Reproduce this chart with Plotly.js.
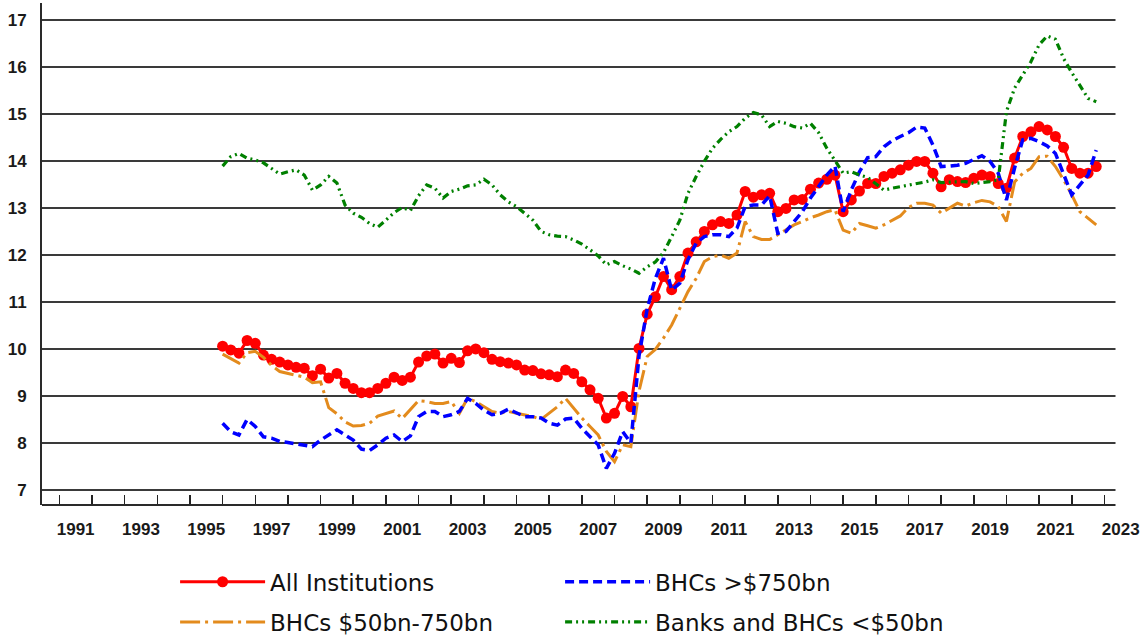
<!DOCTYPE html>
<html>
<head>
<meta charset="utf-8">
<script src="https://cdn.plot.ly/plotly-3.0.1.min.js"></script>
<style>
html,body{margin:0;padding:0;background:#ffffff;}
#chart{width:1146px;height:637px;}
</style>
</head>
<body>
<div id="chart"></div>
<script>
// Quarterly observations, 1996 Q1 .. 2022 Q4
const firstYear = 1996;

const allInstitutions = [
 10.06, 9.98, 9.91, 10.18, 10.12, 9.87, 9.78, 9.72, 9.66, 9.61, 9.59, 9.43,
 9.57, 9.38, 9.48, 9.27, 9.16, 9.07, 9.07, 9.16, 9.27, 9.40, 9.33, 9.40,
 9.72, 9.85, 9.89, 9.70, 9.80, 9.71, 9.96, 10.00, 9.92, 9.78, 9.73, 9.70,
 9.66, 9.55, 9.54, 9.47, 9.45, 9.41, 9.55, 9.48, 9.30, 9.13, 8.95, 8.53,
 8.63, 8.99, 8.77, 10.01, 10.74, 11.11, 11.54, 11.26, 11.54, 12.04, 12.28, 12.50,
 12.64, 12.71, 12.67, 12.85, 13.35, 13.23, 13.28, 13.31, 12.92, 12.99, 13.17, 13.18,
 13.40, 13.53, 13.61, 13.70, 12.92, 13.17, 13.36, 13.52, 13.52, 13.67, 13.74, 13.81,
 13.91, 13.99, 13.99, 13.74, 13.45, 13.60, 13.56, 13.54, 13.63, 13.70, 13.67, 13.52,
 13.42, 14.06, 14.52, 14.62, 14.73, 14.66, 14.52, 14.29, 13.84, 13.74, 13.74, 13.88
];

const bhcsOver750bn = [
 8.42, 8.24, 8.17, 8.50, 8.35, 8.13, 8.10, 8.03, 8.01, 7.98, 7.94, 7.92,
 8.06, 8.17, 8.28, 8.17, 8.06, 7.87, 7.84, 7.96, 8.10, 8.17, 8.03, 8.15,
 8.56, 8.67, 8.67, 8.56, 8.60, 8.67, 8.95, 8.84, 8.70, 8.60, 8.63, 8.72,
 8.63, 8.56, 8.56, 8.53, 8.42, 8.38, 8.51, 8.53, 8.31, 8.13, 7.96, 7.46,
 7.78, 8.24, 8.00, 9.85, 10.85, 11.50, 11.93, 11.25, 11.40, 11.90, 12.25, 12.39,
 12.43, 12.43, 12.39, 12.57, 13.03, 13.06, 13.06, 13.26, 12.46, 12.50, 12.71, 12.92,
 13.21, 13.45, 13.70, 13.89, 12.92, 13.38, 13.77, 14.07, 14.09, 14.30, 14.43, 14.52,
 14.60, 14.72, 14.70, 14.34, 13.88, 13.89, 13.91, 13.95, 14.04, 14.11, 13.99, 13.74,
 13.17, 13.85, 14.45, 14.48, 14.41, 14.32, 14.16, 13.74, 13.28, 13.49, 13.70, 14.23
];

const bhcs50to750bn = [
 9.89, 9.80, 9.70, 9.92, 9.95, 9.82, 9.65, 9.52, 9.48, 9.45, 9.40, 9.28,
 9.30, 8.75, 8.62, 8.45, 8.36, 8.37, 8.42, 8.57, 8.63, 8.68, 8.52, 8.72,
 8.90, 8.88, 8.84, 8.84, 8.88, 8.63, 8.95, 8.88, 8.77, 8.67, 8.63, 8.67,
 8.63, 8.60, 8.56, 8.50, 8.63, 8.77, 8.95, 8.74, 8.53, 8.35, 8.17, 7.82,
 7.60, 7.96, 7.92, 9.10, 9.84, 9.99, 10.23, 10.51, 10.87, 11.22, 11.50, 11.86,
 11.96, 12.00, 11.93, 12.04, 12.71, 12.39, 12.33, 12.33, 12.43, 12.53, 12.64, 12.71,
 12.79, 12.85, 12.92, 12.96, 12.53, 12.46, 12.67, 12.62, 12.57, 12.64, 12.74, 12.83,
 13.01, 13.10, 13.10, 13.06, 12.89, 12.99, 13.10, 13.04, 13.11, 13.16, 13.13, 13.03,
 12.71, 13.55, 13.74, 13.84, 14.09, 14.10, 13.88, 13.60, 13.28, 12.92, 12.78, 12.64
];

const banksUnder50bn = [
 13.89, 14.09, 14.16, 14.06, 14.02, 13.96, 13.84, 13.72, 13.77, 13.81, 13.70, 13.38,
 13.49, 13.67, 13.53, 13.06, 12.89, 12.80, 12.67, 12.59, 12.74, 12.90, 13.01, 12.94,
 13.26, 13.49, 13.42, 13.21, 13.35, 13.40, 13.47, 13.49, 13.61, 13.49, 13.28, 13.13,
 13.03, 12.89, 12.74, 12.50, 12.43, 12.40, 12.39, 12.32, 12.23, 12.11, 11.98, 11.79,
 11.86, 11.77, 11.70, 11.61, 11.75, 11.85, 12.05, 12.39, 12.74, 13.31, 13.67, 13.99,
 14.27, 14.46, 14.62, 14.73, 14.91, 15.03, 14.98, 14.73, 14.84, 14.80, 14.73, 14.70,
 14.80, 14.60, 14.27, 14.01, 13.74, 13.77, 13.70, 13.65, 13.52, 13.38, 13.42, 13.45,
 13.49, 13.52, 13.55, 13.60, 13.54, 13.55, 13.56, 13.56, 13.52, 13.54, 13.56, 13.60,
 15.05, 15.55, 15.83, 16.11, 16.47, 16.66, 16.59, 16.18, 15.88, 15.62, 15.33, 15.26
];

const seriesNames = ['All Institutions', 'BHCs >$750bn', 'BHCs $50bn-750bn', 'Banks and BHCs <$50bn'];
const yTickValues = [7, 8, 9, 10, 11, 12, 13, 14, 15, 16, 17];
const yearTickValues = [1991,1992,1993,1994,1995,1996,1997,1998,1999,2000,2001,2002,2003,2004,2005,2006,2007,
  2008,2009,2010,2011,2012,2013,2014,2015,2016,2017,2018,2019,2020,2021,2022,2023];
const yearLabels = ['1991','1993','1995','1997','1999','2001','2003','2005','2007','2009','2011','2013',
  '2015','2017','2019','2021','2023'];

const quarterX = allInstitutions.map((_, i) => firstYear + i / 4);
const labelPositions = yearLabels.map(s => Number(s) + 0.5);

const xMin = 1990.47, xMax = 2023.6, gridEnd = 2023.34;
const yMin = 6.68, yMax = 17.36;

const tickFont = {family: 'Liberation Sans, Arial, sans-serif', size: 17, color: '#1a1a1a', weight: 'bold'};
const legendFont = {family: 'DejaVu Sans, Liberation Sans, Arial, sans-serif', size: 23, color: '#111'};

const traces = [
  {x: quarterX, y: allInstitutions, name: seriesNames[0], type: 'scatter', mode: 'lines+markers',
   line: {color: '#ff0000', width: 3}, marker: {color: '#ff0000', size: 11}, legend: 'legend'},
  {x: quarterX, y: bhcs50to750bn, name: seriesNames[2], type: 'scatter', mode: 'lines',
   line: {color: '#e38b1d', width: 3, dash: '20px,5px,3px,5px'}, legend: 'legend2'},
  {x: quarterX, y: bhcsOver750bn, name: seriesNames[1], type: 'scatter', mode: 'lines',
   line: {color: '#0000ff', width: 3.5, dash: '9px,5px'}, legend: 'legend'},
  {x: quarterX, y: banksUnder50bn, name: seriesNames[3], type: 'scatter', mode: 'lines',
   line: {color: '#008000', width: 3.2, dash: '7px,4px,2px,4px,2px,4px'}, legend: 'legend2'}
];

const shapes = yTickValues.map(v => ({
  type: 'line', xref: 'x', yref: 'y', x0: xMin, x1: gridEnd, y0: v, y1: v,
  line: {color: '#3a3a3a', width: 2}, layer: 'below'
}));
shapes.push({type: 'line', xref: 'x', yref: 'paper', x0: xMin, x1: gridEnd, y0: 0, y1: 0,
  line: {color: '#2a2a2a', width: 2}, layer: 'above'});

const legendBase = {orientation: 'h', x: 0.123, xanchor: 'left', yanchor: 'middle',
  entrywidth: 285, itemwidth: 85, font: legendFont, bgcolor: 'rgba(0,0,0,0)', traceorder: 'normal'};

const layout = {
  width: 1146, height: 637,
  margin: {l: 42, r: 22, t: 3, b: 132, autoexpand: false},
  paper_bgcolor: '#ffffff', plot_bgcolor: '#ffffff',
  showlegend: true,
  xaxis: {range: [xMin, xMax], tickmode: 'array', tickvals: yearTickValues, ticks: 'inside',
    ticklen: 10, tickwidth: 1.5, tickcolor: '#222', showticklabels: false, showgrid: false,
    zeroline: false, showline: false, fixedrange: true},
  xaxis2: {range: [xMin, xMax], overlaying: 'x', anchor: 'y', side: 'bottom', tickmode: 'array',
    tickvals: labelPositions, ticktext: yearLabels, ticks: '', showgrid: false, zeroline: false,
    showline: false, tickfont: tickFont, ticklabelstandoff: 12, fixedrange: true},
  yaxis: {range: [yMin, yMax], tickmode: 'array', tickvals: yTickValues, ticks: '',
    showgrid: false, zeroline: false, showline: true, linecolor: '#2a2a2a', linewidth: 2,
    tickfont: tickFont, ticklabelstandoff: 10, fixedrange: true},
  legend: Object.assign({}, legendBase, {y: -0.153}),
  legend2: Object.assign({}, legendBase, {y: -0.233}),
  shapes: shapes
};

// invisible carrier trace so the year-label axis is drawn
traces.push({x: [xMin], y: [yMin], xaxis: 'x2', yaxis: 'y', type: 'scatter', mode: 'markers',
  marker: {opacity: 0}, showlegend: false, hoverinfo: 'skip'});

Plotly.newPlot('chart', traces, layout, {displayModeBar: false, staticPlot: true});
</script>
</body>
</html>
